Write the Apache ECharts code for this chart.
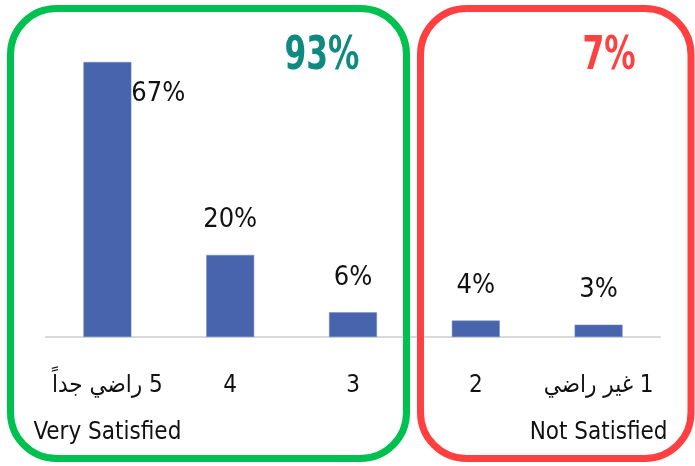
<!DOCTYPE html>
<html>
<head>
<meta charset="utf-8">
<script src="https://cdn.jsdelivr.net/npm/echarts@6/dist/echarts.min.js"></script>
<style>html,body{margin:0;padding:0;background:#fff}#c{width:695px;height:466px}</style>
</head>
<body>
<div id="c"></div>
<script>
const categoriesTop = ['\u202B5 راضي جداً\u202C', '4', '3', '2', '\u202B1 غير راضي\u202C'];
const categoriesBottom = ['Very Satisfied', '', '', '', 'Not Satisfied'];
const values = [67, 20, 6, 4, 3];
const valueLabels = ['67%', '20%', '6%', '4%', '3%'];
const groupTotals = ['93%', '7%'];

const FONT = '"DejaVu Sans Condensed", "Liberation Sans Narrow", "Liberation Sans", sans-serif';
const chart = echarts.init(document.getElementById('c'));

const categories = categoriesTop.map((t, i) => categoriesBottom[i] ? t + '\n' + categoriesBottom[i] : t);

const data = values.map((v, i) => {
  const item = { value: v };
  if (i === 0) {
    item.label = { position: ['100%', 32], align: 'left', verticalAlign: 'middle', distance: 0 };
  }
  return item;
});

chart.setOption({
  animation: false,
  grid: { left: 46, right: 35, top: 62, bottom: 129 },
  xAxis: {
    type: 'category',
    data: categories,
    axisLine: { lineStyle: { color: '#D9D9D9', width: 2 } },
    axisTick: { show: false },
    axisLabel: {
      interval: 0,
      margin: 25,
      color: '#111',
      fontFamily: FONT,
      fontSize: 24,
      lineHeight: 47
    }
  },
  yAxis: { type: 'value', min: 0, max: 67, show: false, splitLine: { show: false } },
  series: [{
    type: 'bar',
    data: data,
    barWidth: '39%',
    itemStyle: { color: '#4864AC', borderColor: '#6F86C4', borderWidth: 0.5 },
    label: {
      show: true,
      position: 'top',
      distance: 21,
      color: '#111',
      fontFamily: FONT,
      fontSize: 27,
      formatter: p => valueLabels[p.dataIndex]
    }
  }],
  graphic: [
    { type: 'rect', shape: { x: 10.5, y: 8.5, width: 396, height: 450, r: 46 },
      style: { fill: 'none', stroke: '#00C050', lineWidth: 7 }, z: 10 },
    { type: 'rect', shape: { x: 420.5, y: 8.5, width: 270.5, height: 450, r: 46 },
      style: { fill: 'none', stroke: '#FF4040', lineWidth: 7 }, z: 10 },
    { type: 'text', x: 322, y: 57, scaleX: 0.74, style: { text: groupTotals[0], fill: '#0E8A80', font: 'bold 47px ' + FONT, align: 'center', verticalAlign: 'middle' }, z: 11 },
    { type: 'text', x: 609, y: 57, scaleX: 0.74, style: { text: groupTotals[1], fill: '#FF4040', font: 'bold 47px ' + FONT, align: 'center', verticalAlign: 'middle' }, z: 11 }
  ]
});
</script>
</body>
</html>
